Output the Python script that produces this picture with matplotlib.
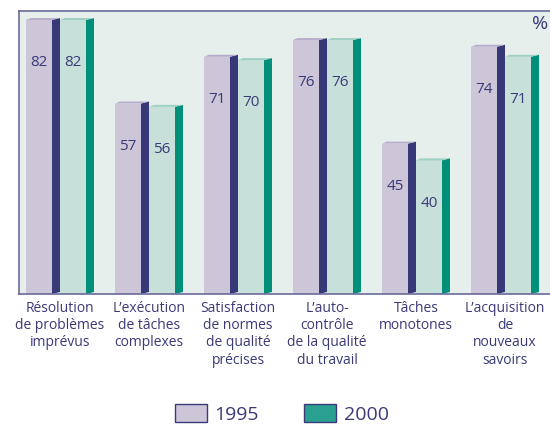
import matplotlib
matplotlib.use("Agg")
import matplotlib.pyplot as plt
from matplotlib.patches import Patch

plt.rcParams['font.family'] = ['Open Sans', 'DejaVu Sans']

# Données
categories = [
    "Résolution\nde problèmes\nimprévus",
    "L’exécution\nde tâches\ncomplexes",
    "Satisfaction\nde normes\nde qualité\nprécises",
    "L’auto-\ncontrôle\nde la qualité\ndu travail",
    "Tâches\nmonotones",
    "L’acquisition\nde\nnouveaux\nsavoirs",
]
val_1995 = [82, 57, 71, 76, 45, 74]
val_2000 = [82, 56, 70, 76, 40, 71]
series_labels = ["1995", "2000"]

navy = "#3a3a78"
front_1995, side_1995, top_1995 = "#cdc5d8", "#363878", "#b8aecb"
front_2000, side_2000, top_2000 = "#c8e0da", "#00907a", "#9fd0c4"

fig = plt.figure(figsize=(5.5, 4.25), dpi=100)
ax = fig.add_axes([19 / 550, 1 - 294 / 425, 531 / 550, 283 / 425])
ax.set_facecolor("#e6efec")

front_w = 26 / 89
side_w = 8 / 89
dz = 0.6  # petite inclinaison 3D

def draw_bar(x0, v, front, side, top):
    ax.bar(x0, v, width=front_w, align="edge", color=front, linewidth=0, zorder=2)
    ax.fill([x0 + front_w, x0 + front_w, x0 + front_w + side_w, x0 + front_w + side_w],
            [0, v, v + dz, dz], color=side, linewidth=0, zorder=2)
    ax.fill([x0, x0 + side_w * 0.6, x0 + front_w + side_w, x0 + front_w],
            [v, v + dz, v + dz, v], color=top, linewidth=0, zorder=2)
    ax.text(x0 + front_w / 2, v - 12.8, f"{v}", ha="center", va="center",
            fontsize=11, color=navy, zorder=3)

for i, (a, b) in enumerate(zip(val_1995, val_2000)):
    draw_bar(i, a, front_1995, side_1995, top_1995)
    draw_bar(i + front_w + side_w, b, front_2000, side_2000, top_2000)

ax.set_xlim(-7 / 89, 524 / 89)
ax.set_ylim(0, 84.7)
ax.set_yticks([])
centers = [i + front_w + side_w for i in range(len(categories))]
ax.set_xticks(centers)
ax.set_xticklabels(categories, fontsize=10, color=navy, linespacing=1.2, va="top")
ax.tick_params(axis="x", length=0, pad=5)
for s in ["top", "left", "bottom"]:
    ax.spines[s].set_color("#6a6a9a")
    ax.spines[s].set_linewidth(1.2)
ax.spines["right"].set_visible(False)

fig.text(540 / 550, 1 - 24 / 425, "%", fontsize=14, color=navy, ha="center", va="center")

handles = [Patch(facecolor="#cdc5d8", edgecolor=navy, linewidth=1),
           Patch(facecolor="#2aa090", edgecolor=navy, linewidth=1)]
fig.legend(handles, series_labels, loc="center", bbox_to_anchor=(0.512, 1 - 414 / 425),
           ncol=2, frameon=False, fontsize=14, labelcolor=navy,
           handlelength=1.65, handleheight=1.0, handletextpad=0.4, columnspacing=2.3)

fig.savefig("out.png", dpi=100)
